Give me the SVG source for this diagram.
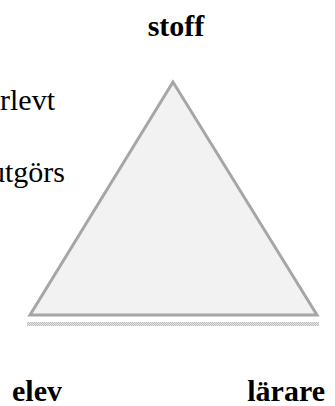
<svg xmlns="http://www.w3.org/2000/svg" width="335" height="406" viewBox="0 0 335 406">
<style>
.b{font-family:"Liberation Serif","Times New Roman",serif;font-weight:bold;font-size:30px;fill:#000}
.r{font-family:"Liberation Serif","Times New Roman",serif;font-size:30px;fill:#000}
</style>
<defs>
<pattern id="chk" x="0" y="0" width="2" height="2" patternUnits="userSpaceOnUse">
<rect width="2" height="2" fill="#e6e6e6"/>
<rect width="1" height="1" fill="#bdbdbd"/>
<rect x="1" y="1" width="1" height="1" fill="#bdbdbd"/>
</pattern>
</defs>
<rect width="335" height="406" fill="#fff"/>
<g id="connectors">
<rect x="27" y="322" width="292" height="4" fill="url(#chk)"/>
<polygon points="173,82 30,315 317,315" fill="#f2f2f2" stroke="#a6a6a6" stroke-width="3" stroke-linejoin="miter"/>
</g>
<g id="stoff"><text class="b" x="176" y="36" text-anchor="middle">stoff</text></g>
<g id="rlevt"><text class="r" x="0" y="110">rlevt</text></g>
<g id="utgors"><text class="r" x="65" y="182" text-anchor="end">utgörs</text></g>
<g id="elev"><text class="b" x="12" y="401">elev</text></g>
<g id="larare"><text class="b" x="325" y="401" text-anchor="end">lärare</text></g>
</svg>
